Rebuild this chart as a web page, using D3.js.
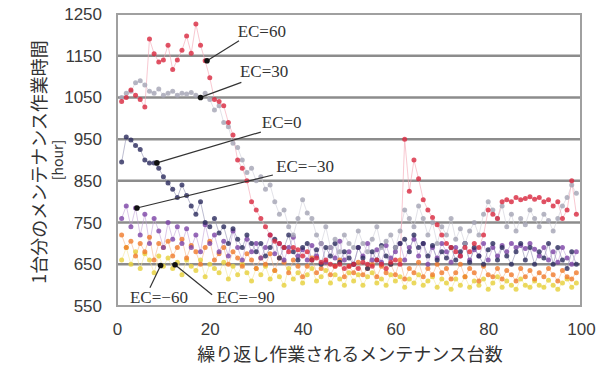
<!DOCTYPE html>
<html>
<head>
<meta charset="utf-8">
<script src="https://cdn.jsdelivr.net/npm/d3@7"></script>
<style>
  body { margin: 0; background: #fff; }
  .tick text { font-family: "Liberation Sans", Arial, sans-serif; font-size: 17px; fill: #3a3a3a; }
  .ann { font-family: "Liberation Serif", "Times New Roman", serif; font-size: 17px; fill: #333; }
  .ttl { font-family: "Noto Sans CJK JP", sans-serif; fill: #333; }
</style>
</head>
<body>
<svg id="chart" width="602" height="367"></svg>
<script>
// x = number of repeatedly maintained units (1..99)
var xs = d3.range(1, 100);

var ec60 = [1040,1050,1068,1055,1045,1027,1190,1155,1135,1140,
            1175,1117,1140,1163,1197,1156,1226,1175,1138,1097,
            1045,1040,1030,990,960,900,880,850,800,780,
            760,740,720,705,700,690,680,690,685,670,
            680,660,665,655,660,650,645,650,640,645,
            650,640,655,650,645,660,650,640,655,660,
            650,950,825,900,855,805,780,762,745,720,
            700,690,680,670,690,680,700,690,720,780,
            770,760,800,805,800,810,805,808,812,806,
            810,800,805,790,800,760,780,850,770];

var ec30 = [1050,1060,1065,1085,1090,1080,1065,1060,1070,1055,
            1060,1065,1055,1060,1058,1062,1055,1050,1060,1045,
            1020,1030,990,980,940,930,900,870,880,850,
            860,830,840,800,770,780,740,720,760,805,
            773,760,720,700,740,690,710,680,720,700,
            690,730,700,680,710,740,690,705,720,690,
            730,780,760,740,790,760,720,750,700,740,
            720,760,710,735,700,730,750,720,770,800,
            780,760,790,740,770,730,760,745,780,760,
            740,770,755,730,760,790,810,840,820];

var ec0 = [895,955,948,935,925,900,893,893,880,860,
           845,830,810,840,815,790,770,800,750,740,
           760,725,740,700,735,710,690,720,700,680,
           700,670,690,710,665,690,720,680,660,690,
           700,660,685,650,690,670,700,655,680,665,
           650,690,665,640,680,660,695,670,650,690,
           700,710,680,720,690,700,670,695,660,680,
           665,690,660,680,700,655,690,670,650,685,
           700,660,690,670,650,680,700,660,690,650,
           680,665,700,650,690,660,640,680,650];

var ecM30 = [760,790,740,785,720,770,700,760,730,690,
             750,710,740,700,735,690,720,680,745,700,
             720,680,705,670,730,690,660,710,680,700,
             665,690,720,675,700,660,690,715,670,685,
             660,695,670,700,655,690,665,705,660,680,
             650,690,670,700,660,685,655,695,665,680,
             700,660,690,710,670,700,650,690,665,700,
             680,655,690,670,700,660,685,670,700,660,
             690,670,695,680,700,690,695,688,700,686,
             670,690,660,680,655,690,665,650,680];

var ecM60 = [720,690,705,670,700,680,715,660,700,690,
             705,670,690,710,665,695,680,650,690,705,
             660,675,690,650,680,665,645,675,660,640,
             665,650,675,635,665,655,630,660,645,620,
             645,665,630,640,655,625,645,660,620,645,
             630,655,625,640,650,620,645,630,650,625,
             660,615,640,630,655,620,640,625,650,630,
             640,615,630,650,620,640,630,610,645,625,
             620,640,615,635,625,610,640,620,635,615,
             630,620,640,625,610,635,620,615,630];

var ecM90 = [660,690,650,680,640,675,660,630,670,645,
             665,640,655,625,660,645,635,660,620,650,
             640,630,655,615,645,625,650,630,610,640,
             625,645,615,635,620,600,640,615,630,605,
             625,640,610,620,635,605,625,615,600,630,
             610,625,600,620,630,605,615,600,625,610,
             620,595,615,605,625,600,610,620,595,615,
             605,590,615,600,620,595,610,600,615,590,
             605,620,595,610,600,590,615,600,595,610,
             600,595,612,600,590,605,615,595,605];

var seriesValues = [ecM90, ecM60, ecM30, ec0, ec30, ec60];
var dotColours = ['#e6cf3a', '#f07a2c', '#7c44a6', '#2c2c5e', '#a4a4b4', '#d8283e'];
var lineColours = ['#f3e79a', '#f7b88c', '#c3a3d8', '#9090b0', '#cfcfd8', '#f4a3b3'];

var yTicks = [550, 650, 750, 850, 950, 1050, 1150, 1250];
var xTicks = [0, 20, 40, 60, 80, 100];

// annotations: label position and the point the leader line goes to (data units)
var annLabels = ['EC=60', 'EC=30', 'EC=0', 'EC=−30', 'EC=−60', 'EC=−90'];
var annText = [[26, 1195], [26.5, 1099], [31.2, 977], [34.3, 871], [2.8, 557], [21.5, 557]];
var annFrom = [[26.3, 1186], [26.8, 1086], [31, 967], [33.6, 864], [7.1, 594], [20.5, 577]];
var annTo = [[19.4, 1138], [18, 1050], [8.6, 893], [4.3, 785], [9.4, 647], [12.5, 649]];

var margin = {top: 14, right: 21, bottom: 61, left: 117};
var svg = d3.select('#chart');
var width = 602 - margin.left - margin.right;
var height = 367 - margin.top - margin.bottom;
var g = svg.append('g').attr('transform', 'translate(' + margin.left + ',' + margin.top + ')');

var x = d3.scaleLinear().domain([0, 100]).range([0, width]);
var y = d3.scaleLinear().domain([550, 1250]).range([height, 0]);

// grid lines
g.selectAll('.grid')
    .data(yTicks.slice(1, -1))
    .enter().append('line')
    .attr('x1', 0).attr('x2', width)
    .attr('y1', function(d) { return y(d); })
    .attr('y2', function(d) { return y(d); })
    .style('stroke', '#8c8c8c')
    .style('stroke-width', 2.5);

// series lines then dots
var line = d3.line()
    .x(function(d, i) { return x(xs[i]); })
    .y(function(d) { return y(d); });

seriesValues.forEach(function(vals, k) {
    g.append('path')
        .datum(vals)
        .attr('d', line)
        .style('fill', 'none')
        .style('stroke', lineColours[k])
        .style('stroke-width', 1)
        .style('stroke-opacity', 0.6);
});

seriesValues.forEach(function(vals, k) {
    g.selectAll('.dot' + k)
        .data(vals)
        .enter().append('circle')
        .attr('cx', function(d, i) { return x(xs[i]); })
        .attr('cy', function(d) { return y(d); })
        .attr('r', 2.5)
        .style('fill', dotColours[k])
        .style('fill-opacity', 0.8);
});

// plot frame
g.append('rect')
    .attr('x', 0).attr('y', 0)
    .attr('width', width).attr('height', height)
    .style('fill', 'none')
    .style('stroke', '#a0a0a0')
    .style('stroke-width', 2);

// axes
var yAxis = d3.axisLeft(y).tickValues(yTicks).tickFormat(d3.format('d')).tickSize(0).tickPadding(15);
g.append('g').call(yAxis).call(function(s) { s.select('.domain').remove(); });

var xAxis = d3.axisBottom(x).tickValues(xTicks).tickFormat(d3.format('d')).tickSize(0).tickPadding(17);
g.append('g').attr('transform', 'translate(0,' + height + ')').call(xAxis)
    .call(function(s) { s.select('.domain').remove(); });

// annotations
annLabels.forEach(function(lab, i) {
    g.append('line')
        .attr('x1', x(annFrom[i][0])).attr('y1', y(annFrom[i][1]))
        .attr('x2', x(annTo[i][0])).attr('y2', y(annTo[i][1]))
        .style('stroke', '#333')
        .style('stroke-width', 1.2);
    g.append('circle')
        .attr('cx', x(annTo[i][0])).attr('cy', y(annTo[i][1]))
        .attr('r', 2.8)
        .style('fill', '#111');
    g.append('text')
        .attr('class', 'ann')
        .attr('x', x(annText[i][0])).attr('y', y(annText[i][1]))
        .text(lab);
});

// axis titles
svg.append('text')
    .attr('class', 'ttl')
    .attr('transform', 'translate(46,162) rotate(-90)')
    .style('text-anchor', 'middle')
    .style('font-size', '18px')
    .text('1台分のメンテナンス作業時間');
svg.append('text')
    .attr('class', 'ttl')
    .attr('transform', 'translate(63,160) rotate(-90)')
    .style('text-anchor', 'middle')
    .style('font-size', '14px')
    .text('[hour]');
svg.append('text')
    .attr('class', 'ttl')
    .attr('x', 350).attr('y', 361)
    .style('text-anchor', 'middle')
    .style('font-size', '18px')
    .text('繰り返し作業されるメンテナンス台数');
</script>
</body>
</html>
